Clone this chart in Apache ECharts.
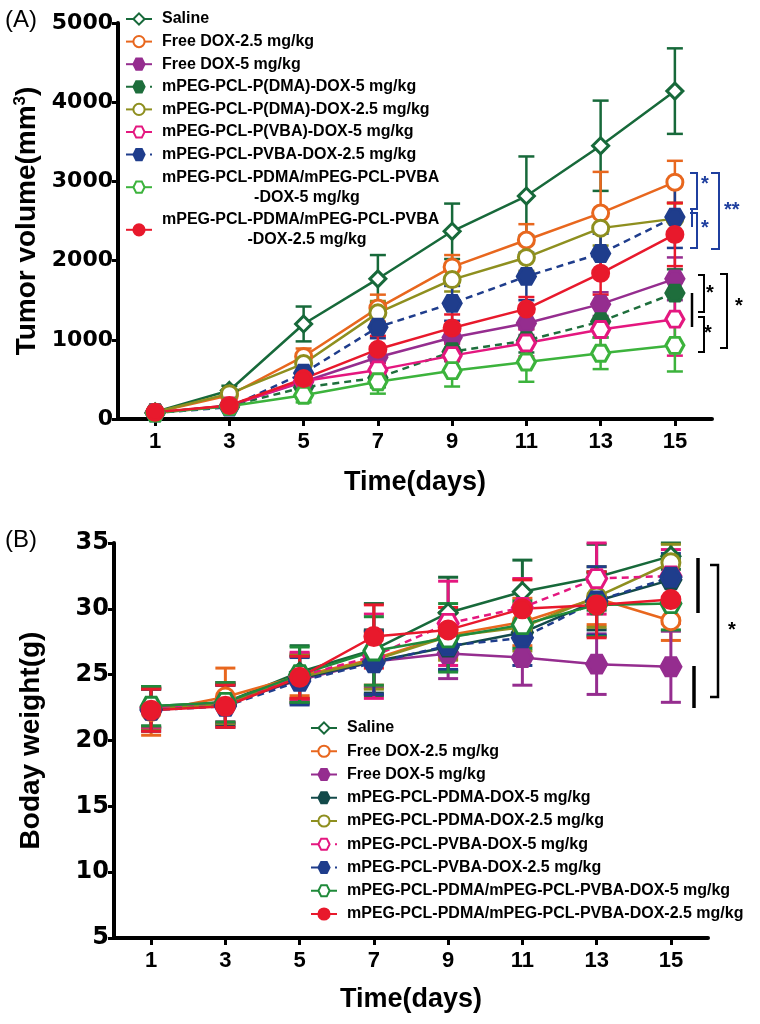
<!DOCTYPE html>
<html>
<head>
<meta charset="utf-8">
<script src="https://cdn.jsdelivr.net/npm/echarts@6/dist/echarts.min.js"></script>
<style>
html, body { margin: 0; padding: 0; background: #fff; }
#main { width: 760px; height: 1024px; }
</style>
</head>
<body>
<div id="main"></div>
<script>
var days = [1, 3, 5, 7, 9, 11, 13, 15];

var namesA = [
  'Saline',
  'Free DOX-2.5 mg/kg',
  'Free DOX-5 mg/kg',
  'mPEG-PCL-P(DMA)-DOX-5 mg/kg',
  'mPEG-PCL-P(DMA)-DOX-2.5 mg/kg',
  'mPEG-PCL-P(VBA)-DOX-5 mg/kg',
  'mPEG-PCL-PVBA-DOX-2.5 mg/kg',
  'mPEG-PCL-PDMA/mPEG-PCL-PVBA\n-DOX-5 mg/kg',
  'mPEG-PCL-PDMA/mPEG-PCL-PVBA\n-DOX-2.5 mg/kg'
];
var namesB = [
  'Saline',
  'Free DOX-2.5 mg/kg',
  'Free DOX-5 mg/kg',
  'mPEG-PCL-PDMA-DOX-5 mg/kg',
  'mPEG-PCL-PDMA-DOX-2.5 mg/kg',
  'mPEG-PCL-PVBA-DOX-5 mg/kg',
  'mPEG-PCL-PVBA-DOX-2.5 mg/kg',
  'mPEG-PCL-PDMA/mPEG-PCL-PVBA-DOX-5 mg/kg',
  'mPEG-PCL-PDMA/mPEG-PCL-PVBA-DOX-2.5 mg/kg'
];

// tumor volume (mm3), mean and +/- error
var volSaline   = [90, 360, 1200, 1770, 2370, 2815, 3450, 4140];
var volFree25   = [85, 300, 790, 1400, 1920, 2260, 2600, 2990];
var volFree5    = [80, 170, 470, 780, 1030, 1210, 1450, 1770];
var volDma5     = [80, 165, 400, 520, 850, 990, 1230, 1590];
var volDma25    = [85, 320, 700, 1340, 1760, 2040, 2410, 2530];
var volVba5     = [80, 165, 480, 620, 800, 960, 1130, 1260];
var volVba25    = [75, 150, 580, 1160, 1460, 1800, 2090, 2550];
var volMix5     = [75, 160, 300, 470, 610, 720, 830, 930];
var volMix25    = [85, 170, 510, 880, 1150, 1390, 1840, 2330];

var volErrSaline = [30, 60, 220, 300, 350, 500, 570, 540];
var volErrFree25 = [20, 50, 100, 170, 150, 200, 520, 270];
var volErrFree5  = [20, 40, 90, 120, 130, 150, 150, 270];
var volErrDma5   = [20, 40, 80, 120, 120, 150, 200, 300];
var volErrDma25  = [20, 40, 90, 150, 150, 170, 220, 200];
var volErrVba5   = [20, 40, 90, 130, 150, 170, 280, 460];
var volErrVba25  = [20, 30, 80, 140, 220, 300, 250, 390];
var volErrMix5   = [20, 30, 90, 150, 200, 250, 200, 330];
var volErrMix25  = [20, 40, 80, 170, 170, 150, 270, 400];

// body weight (g), mean and +/- error
var bwSaline   = [22.6, 22.9, 25.2, 26.9, 29.7, 31.3, 32.4, 34.0];
var bwFree25   = [22.2, 23.3, 24.9, 26.2, 28.0, 29.0, 30.8, 29.1];
var bwFree5    = [22.5, 22.8, 24.6, 26.0, 26.6, 26.3, 25.8, 25.6];
var bwDma5     = [22.4, 22.7, 24.7, 26.0, 27.1, 28.2, 30.6, 32.2];
var bwDma25    = [22.4, 22.8, 24.8, 26.1, 27.9, 28.6, 30.9, 33.5];
var bwVba5     = [22.5, 22.9, 24.9, 26.4, 28.9, 30.1, 32.3, 32.5];
var bwVba25    = [22.3, 22.6, 24.5, 25.9, 27.2, 27.8, 30.6, 32.4];
var bwMix5     = [22.6, 22.9, 25.0, 26.8, 27.8, 28.8, 30.3, 30.4];
var bwMix25    = [22.3, 22.6, 24.8, 27.9, 28.4, 30.0, 30.3, 30.7];

var bwErrSaline = [1.5, 1.5, 2.0, 3.5, 2.7, 2.4, 2.5, 1.0];
var bwErrFree25 = [1.8, 2.2, 1.5, 2.0, 1.7, 1.8, 2.0, 1.5];
var bwErrFree5  = [1.5, 1.5, 1.8, 2.0, 1.9, 2.1, 2.3, 2.7];
var bwErrDma5   = [1.5, 1.5, 1.8, 2.4, 1.8, 1.9, 2.2, 1.6];
var bwErrDma25  = [1.5, 1.5, 1.8, 2.2, 1.8, 1.8, 2.3, 1.4];
var bwErrVba5   = [1.5, 1.5, 1.8, 3.2, 3.2, 2.2, 2.7, 2.0];
var bwErrVba25  = [1.6, 1.6, 1.8, 2.4, 1.8, 2.1, 2.6, 1.8];
var bwErrMix5   = [1.5, 1.5, 2.1, 2.6, 2.6, 1.8, 2.4, 2.0];
var bwErrMix25  = [1.6, 1.6, 1.6, 2.4, 1.7, 2.2, 2.5, 1.8];

var colorsA = ['#17693a', '#e8671e', '#952d8f', '#1e6e3c', '#8e8f1f', '#e4177f', '#1f3d8c', '#3cb33c', '#e8192c'];
var colorsB = ['#17693a', '#e8671e', '#952d8f', '#134a4a', '#8e8f1f', '#e4177f', '#1f3d8c', '#1f8a3a', '#e8192c'];

var HEX = 'path://M0,5L3,0L9,0L12,5L9,10L3,10Z';
var symbols = ['diamond', 'circle', HEX, HEX, 'circle', HEX, HEX, HEX, 'circle'];
var hollow  = [true, true, false, false, true, true, false, true, false];

var valsA = [volSaline, volFree25, volFree5, volDma5, volDma25, volVba5, volVba25, volMix5, volMix25];
var errsA = [volErrSaline, volErrFree25, volErrFree5, volErrDma5, volErrDma25, volErrVba5, volErrVba25, volErrMix5, volErrMix25];
var valsB = [bwSaline, bwFree25, bwFree5, bwDma5, bwDma25, bwVba5, bwVba25, bwMix5, bwMix25];
var errsB = [bwErrSaline, bwErrFree25, bwErrFree5, bwErrDma5, bwErrDma25, bwErrVba5, bwErrVba25, bwErrMix5, bwErrMix25];
var dash = [7, 5];

var FONT = "'Liberation Sans', Arial, sans-serif";
var NUMFONT = "'DejaVu Sans', sans-serif";

function errBar(capHalf, lw) {
  return function (params, api) {
    var x = api.value(0), y = api.value(1), e = api.value(2);
    var t = api.coord([x, y + e]), b = api.coord([x, y - e]);
    var st = { stroke: api.visual('color'), lineWidth: lw };
    return {
      type: 'group',
      children: [
        { type: 'line', shape: { x1: t[0], y1: t[1], x2: b[0], y2: b[1] }, style: st },
        { type: 'line', shape: { x1: t[0] - capHalf, y1: t[1], x2: t[0] + capHalf, y2: t[1] }, style: st },
        { type: 'line', shape: { x1: b[0] - capHalf, y1: b[1], x2: b[0] + capHalf, y2: b[1] }, style: st }
      ]
    };
  };
}

function panelSeries(names, colors, vals, errs, dashed, gi, size, capHalf, lw) {
  var out = [];
  for (var i = 0; i < names.length; i++) {
    var pts = [], eb = [];
    for (var j = 0; j < days.length; j++) {
      pts.push([days[j], vals[i][j]]);
      eb.push([days[j], vals[i][j], errs[i][j]]);
    }
    out.push({
      type: 'custom',
      name: 'err' + gi + '_' + i,
      xAxisIndex: gi, yAxisIndex: gi,
      renderItem: errBar(capHalf, lw),
      itemStyle: { color: colors[i] },
      encode: { x: 0, y: 1 },
      data: eb,
      z: 2,
      silent: true
    });
    out.push({
      type: 'line',
      name: names[i],
      xAxisIndex: gi, yAxisIndex: gi,
      data: pts,
      symbol: symbols[i],
      symbolSize: symbols[i] === HEX ? [size + 2, size] : size,
      color: colors[i],
      itemStyle: {
        color: hollow[i] ? '#fff' : colors[i],
        borderColor: colors[i],
        borderWidth: 3
      },
      lineStyle: {
        color: colors[i],
        width: 2.5,
        type: dashed.indexOf(i) >= 0 ? dash : 'solid'
      },
      z: 3,
      animation: false
    });
  }
  return out;
}

var series = panelSeries(namesA, colorsA, valsA, errsA, [3, 6], 0, 16, 8, 2.5)
  .concat(panelSeries(namesB, colorsB, valsB, errsB, [5, 6], 1, 18, 10, 3));

function xAxisFor(gi) {
  return {
    gridIndex: gi, type: 'value', min: 0, max: 16,
    axisLine: { onZero: false, lineStyle: { color: '#000', width: 4 } },
    axisTick: { show: true, customValues: days, length: 7, lineStyle: { color: '#000', width: 3 } },
    axisLabel: { customValues: days, color: '#000', fontFamily: FONT, fontWeight: 'bold', fontSize: 22, margin: 12 },
    splitLine: { show: false },
    name: 'Time(days)', nameLocation: 'middle', nameGap: gi === 0 ? 50 : 48,
    nameTextStyle: { color: '#000', fontFamily: FONT, fontWeight: 'bold', fontSize: 27 }
  };
}

var legendText = { color: '#000', fontFamily: FONT, fontWeight: 'bold', fontSize: 16, lineHeight: 20, padding: [0, 0, 0, 5] };
var richLine = { color: '#000', fontFamily: FONT, fontWeight: 'bold', fontSize: 16, lineHeight: 20, width: 290 };

var option = {
  backgroundColor: '#fff',
  animation: false,
  grid: [
    { left: 118, top: 23, width: 594, height: 396 },
    { left: 114, top: 543, width: 594, height: 395 }
  ],
  xAxis: [xAxisFor(0), xAxisFor(1)],
  yAxis: [
    {
      gridIndex: 0, type: 'value', min: 0, max: 5000, interval: 1000,
      axisLine: { show: true, lineStyle: { color: '#000', width: 4 } },
      axisTick: { show: true, length: 6, lineStyle: { color: '#000', width: 3 } },
      axisLabel: { color: '#000', fontFamily: NUMFONT, fontWeight: 'bold', fontSize: 22, margin: 5, formatter: function (v) { return String(v); } },
      splitLine: { show: false },
      name: 'Tumor volume(mm{sup|3})', nameLocation: 'middle', nameGap: 66,
      nameTextStyle: {
        color: '#000', fontFamily: FONT, fontWeight: 'bold', fontSize: 28,
        rich: { sup: { color: '#000', fontFamily: FONT, fontWeight: 'bold', fontSize: 17, padding: [0, 0, 14, 0] } }
      }
    },
    {
      gridIndex: 1, type: 'value', min: 5, max: 35, interval: 5,
      axisLine: { show: true, lineStyle: { color: '#000', width: 4 } },
      axisTick: { show: true, length: 6, lineStyle: { color: '#000', width: 3 } },
      axisLabel: { color: '#000', fontFamily: NUMFONT, fontWeight: 'bold', fontSize: 24, margin: 5 },
      splitLine: { show: false },
      name: 'Boday weight(g)', nameLocation: 'middle', nameGap: 69,
      nameTextStyle: { color: '#000', fontFamily: FONT, fontWeight: 'bold', fontSize: 28 }
    }
  ],
  legend: [
    {
      data: namesA, left: 120, top: 4, orient: 'vertical',
      itemWidth: 26, itemHeight: 14, itemGap: 2.6, selectedMode: false,
      formatter: function (n) {
        var p = n.split('\n');
        return p.length > 1 ? '{a|' + p[0] + '}\n{c|' + p[1] + '}' : n;
      },
      textStyle: Object.assign({}, legendText, {
        rich: {
          a: Object.assign({}, richLine, { align: 'left' }),
          c: Object.assign({}, richLine, { align: 'center' })
        }
      })
    },
    {
      data: namesB, left: 305, top: 713, orient: 'vertical',
      itemWidth: 26, itemHeight: 14, itemGap: 3.25, selectedMode: false,
      textStyle: legendText
    }
  ],
  graphic: [
    { type: 'text', left: 5, top: 8, style: { text: '(A)', font: '24px ' + FONT, fill: '#000' } },
    { type: 'text', left: 5, top: 528, style: { text: '(B)', font: '24px ' + FONT, fill: '#000' } },
    // significance brackets, panel A (blue)
    { type: 'polyline', shape: { points: [[690, 173], [697, 173], [697, 209], [690, 209]] }, style: { stroke: '#1f3f9f', lineWidth: 2, fill: null } },
    { type: 'polyline', shape: { points: [[690, 213], [697, 213], [697, 248], [690, 248]] }, style: { stroke: '#1f3f9f', lineWidth: 2, fill: null } },
    { type: 'line', shape: { x1: 692, y1: 209, x2: 692, y2: 227 }, style: { stroke: '#1f3f9f', lineWidth: 2 } },
    { type: 'polyline', shape: { points: [[711, 173], [719, 173], [719, 249], [711, 249]] }, style: { stroke: '#1f3f9f', lineWidth: 2, fill: null } },
    { type: 'text', x: 701, y: 174, style: { text: '*', font: 'bold 20px ' + FONT, fill: '#1f3f9f' } },
    { type: 'text', x: 701, y: 218, style: { text: '*', font: 'bold 20px ' + FONT, fill: '#1f3f9f' } },
    { type: 'text', x: 724, y: 200, style: { text: '**', font: 'bold 20px ' + FONT, fill: '#1f3f9f' } },
    // panel A (black)
    { type: 'polyline', shape: { points: [[698, 275], [704, 275], [704, 312], [698, 312]] }, style: { stroke: '#000', lineWidth: 2, fill: null } },
    { type: 'polyline', shape: { points: [[698, 317], [704, 317], [704, 352], [698, 352]] }, style: { stroke: '#000', lineWidth: 2, fill: null } },
    { type: 'line', shape: { x1: 692, y1: 293, x2: 692, y2: 327 }, style: { stroke: '#000', lineWidth: 2.5 } },
    { type: 'polyline', shape: { points: [[720, 274], [727, 274], [727, 348], [720, 348]] }, style: { stroke: '#000', lineWidth: 2, fill: null } },
    { type: 'text', x: 706, y: 283, style: { text: '*', font: 'bold 20px ' + FONT, fill: '#000' } },
    { type: 'text', x: 704, y: 323, style: { text: '*', font: 'bold 20px ' + FONT, fill: '#000' } },
    { type: 'text', x: 735, y: 296, style: { text: '*', font: 'bold 20px ' + FONT, fill: '#000' } },
    // panel B
    { type: 'line', shape: { x1: 698, y1: 558, x2: 698, y2: 613 }, style: { stroke: '#000', lineWidth: 3.5 } },
    { type: 'line', shape: { x1: 694, y1: 666, x2: 694, y2: 708 }, style: { stroke: '#000', lineWidth: 3.5 } },
    { type: 'polyline', shape: { points: [[710, 565], [718, 565], [718, 697], [710, 697]] }, style: { stroke: '#000', lineWidth: 2.5, fill: null } },
    { type: 'text', x: 728, y: 620, style: { text: '*', font: 'bold 20px ' + FONT, fill: '#000' } }
  ],
  series: series
};

var chart = echarts.init(document.getElementById('main'), null, { renderer: 'canvas' });
chart.setOption(option);
</script>
</body>
</html>
